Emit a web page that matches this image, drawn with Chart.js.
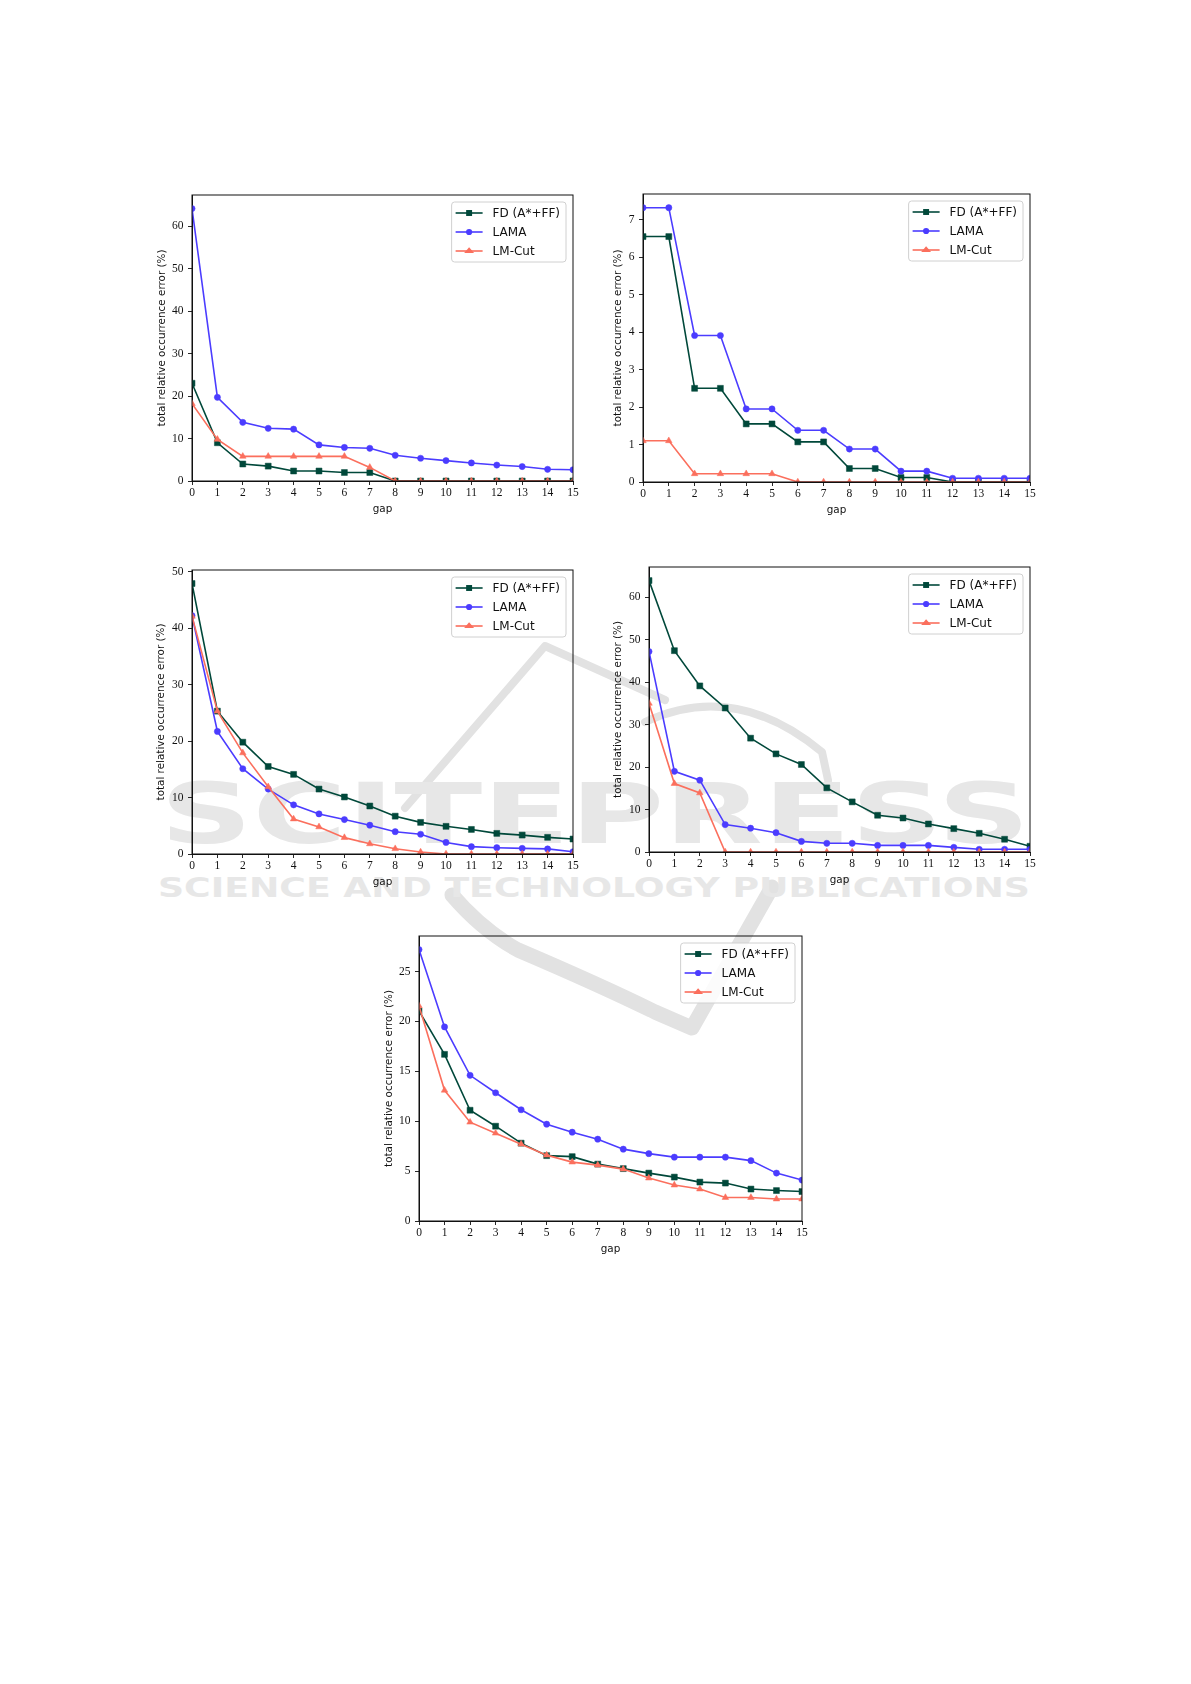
<!DOCTYPE html>
<html>
<head>
<meta charset="utf-8">
<script src="https://cdn.jsdelivr.net/npm/chart.js@4.4.0/dist/chart.umd.min.js"></script>
<style>
  html, body { margin: 0; padding: 0; background: #fff; }
  #page { position: relative; width: 1191px; height: 1684px; overflow: hidden; }
  #page canvas { position: absolute; }
  #mark { position: absolute; left: 0; top: 0; }
</style>
</head>
<body>
<div id="page">
  <svg id="mark" width="1191" height="1684">
    <g fill="none" stroke="#e2e2e2" stroke-linecap="round" stroke-linejoin="round">
      <path d="M 405 808 L 545 646 L 665 700" stroke-width="8"/>
      <path d="M 645 722 Q 735 680 822 752 L 828 780" stroke-width="8"/>
      <path d="M 452 895 Q 482 930 518 950 Q 600 985 655 1012 L 692 1028 L 772 887" stroke-width="15"/>
    </g>
    <text x="160" y="843" textLength="870" lengthAdjust="spacingAndGlyphs"
          font-family="DejaVu Sans" font-weight="bold" font-size="84" fill="#e7e7e7">SCITEPRESS</text>
    <text x="158" y="897" textLength="872" lengthAdjust="spacingAndGlyphs"
          font-family="DejaVu Sans" font-weight="bold" font-size="26" fill="#e7e7e7">SCIENCE AND TECHNOLOGY PUBLICATIONS</text>
  </svg>
  <canvas id="c1"></canvas>
  <canvas id="c2"></canvas>
  <canvas id="c3"></canvas>
  <canvas id="c4"></canvas>
  <canvas id="c5"></canvas>
</div>
<script>
// gap values on the x axis
const gaps = [0, 1, 2, 3, 4, 5, 6, 7, 8, 9, 10, 11, 12, 13, 14, 15];

// panel 1 (top left)
const fd1    = [23.0, 9.0, 4.0, 3.5, 2.35, 2.35, 2.0, 2.0, 0, 0, 0, 0, 0, 0, 0, 0];
const lama1  = [64.1, 19.7, 13.8, 12.4, 12.2, 8.5, 7.9, 7.7, 6.05, 5.35, 4.8, 4.25, 3.75, 3.4, 2.75, 2.65];
const lmcut1 = [18.2, 9.8, 5.8, 5.8, 5.8, 5.8, 5.8, 3.2, 0, 0, 0, 0, 0, 0, 0, 0];
const yTicks1 = [0, 10, 20, 30, 40, 50, 60];

// panel 2 (top right)
const fd2    = [6.55, 6.55, 2.5, 2.5, 1.55, 1.55, 1.07, 1.07, 0.36, 0.36, 0.12, 0.12, 0, 0, 0, 0];
const lama2  = [7.32, 7.32, 3.91, 3.91, 1.95, 1.95, 1.38, 1.38, 0.88, 0.88, 0.29, 0.29, 0.1, 0.1, 0.1, 0.1];
const lmcut2 = [1.1, 1.1, 0.22, 0.22, 0.22, 0.22, 0, 0, 0, 0, 0, 0, 0, 0, 0, 0];
const yTicks2 = [0, 1, 2, 3, 4, 5, 6, 7];

// panel 3 (middle left)
const fd3    = [47.9, 25.3, 19.8, 15.5, 14.1, 11.5, 10.1, 8.5, 6.7, 5.6, 4.9, 4.35, 3.65, 3.35, 2.95, 2.65];
const lama3  = [42.2, 21.7, 15.1, 11.5, 8.7, 7.1, 6.1, 5.1, 3.95, 3.5, 2.05, 1.3, 1.12, 1.0, 0.9, 0.4];
const lmcut3 = [42.1, 25.3, 17.9, 11.9, 6.2, 4.8, 2.9, 1.8, 0.94, 0.35, 0, 0, 0, 0, 0, 0];
const yTicks3 = [0, 10, 20, 30, 40, 50];

// panel 4 (middle right)
const fd4    = [63.9, 47.4, 39.1, 33.9, 26.8, 23.1, 20.6, 15.1, 11.8, 8.65, 8.0, 6.6, 5.5, 4.4, 3.0, 1.35];
const lama4  = [47.2, 19.0, 16.9, 6.45, 5.6, 4.55, 2.5, 2.05, 2.05, 1.55, 1.55, 1.55, 1.1, 0.63, 0.63, 0.63];
const lmcut4 = [35.0, 16.1, 13.9, 0, 0, 0, 0, 0, 0, 0, 0, 0, 0, 0, 0, 0];
const yTicks4 = [0, 10, 20, 30, 40, 50, 60];

// panel 5 (bottom)
const fd5    = [21.05, 16.7, 11.1, 9.5, 7.8, 6.55, 6.45, 5.7, 5.25, 4.8, 4.4, 3.9, 3.8, 3.2, 3.05, 2.95];
const lama5  = [27.2, 19.45, 14.6, 12.85, 11.15, 9.7, 8.9, 8.2, 7.2, 6.75, 6.4, 6.4, 6.4, 6.05, 4.8, 4.1];
const lmcut5 = [21.55, 13.1, 9.9, 8.8, 7.7, 6.6, 5.9, 5.6, 5.2, 4.3, 3.6, 3.2, 2.35, 2.35, 2.2, 2.2];
const yTicks5 = [0, 5, 10, 15, 20, 25];

const seriesNames = ["FD (A*+FF)", "LAMA", "LM-Cut"];
const yLabel = "total relative occurrence error (%)";
const xLabel = "gap";

// plot-area boxes [left, top, right, bottom] in page pixels, and y-label offset
const panels = [
  { id: "c1", box: [192, 195, 573, 481], yTitleOff: 30, yTicks: yTicks1, series: [fd1, lama1, lmcut1] },
  { id: "c2", box: [643, 194, 1030, 482], yTitleOff: 25, yTicks: yTicks2, series: [fd2, lama2, lmcut2] },
  { id: "c3", box: [192, 570, 573, 854], yTitleOff: 31, yTicks: yTicks3, series: [fd3, lama3, lmcut3] },
  { id: "c4", box: [649, 567, 1030, 852], yTitleOff: 31, yTicks: yTicks4, series: [fd4, lama4, lmcut4] },
  { id: "c5", box: [419, 936, 802, 1221], yTitleOff: 30, yTicks: yTicks5, series: [fd5, lama5, lmcut5] }
];

const styles = [
  { color: "#00483a", pointStyle: "rect", radius: 4.2, order: 3 },
  { color: "#4b3cff", pointStyle: "circle", radius: 3.1, order: 2 },
  { color: "#fb6f5d", pointStyle: "triangle", radius: 3.8, order: 1 }
];

const PAD_L = 48, PAD_T = 10, PAD_R = 16, PAD_B = 42;
const tickFont = { family: "Liberation Serif", size: 11.5 };
const labelFont = { family: "DejaVu Sans", size: 10.4, lineHeight: 1.2 };
const INK = "#111";

function marker(ctx, style, r, x, y) {
  ctx.beginPath();
  if (style === "rect") {
    const s = r * Math.SQRT1_2;
    ctx.rect(x - s, y - s, 2 * s, 2 * s);
  } else if (style === "triangle") {
    const h = r * 1.5, half = r * 1.3;
    ctx.moveTo(x, y - h * 0.66);
    ctx.lineTo(x + half, y + h * 0.34);
    ctx.lineTo(x - half, y + h * 0.34);
    ctx.closePath();
  } else {
    ctx.arc(x, y, r, 0, Math.PI * 2);
  }
  ctx.fill();
}

const frame = {
  id: "frame",
  afterDraw(chart) {
    const a = chart.chartArea, ctx = chart.ctx;
    ctx.save();
    ctx.strokeStyle = INK;
    ctx.lineWidth = 1;
    ctx.strokeRect(a.left, a.top, a.right - a.left, a.bottom - a.top);
    ctx.restore();
  }
};

const insideLegend = {
  id: "insideLegend",
  afterDatasetsDraw(chart) {
    const a = chart.chartArea, ctx = chart.ctx;
    const sets = chart.data.datasets;
    ctx.save();
    ctx.font = '12px "DejaVu Sans"';
    const tw = Math.max(...sets.map(d => ctx.measureText(d.label).width));
    const w = 41 + tw + 6, h = 60;
    const x = a.right - 7 - w, y = a.top + 7;
    ctx.beginPath();
    ctx.roundRect(x, y, w, h, 3);
    ctx.fillStyle = "rgba(255,255,255,0.85)";
    ctx.fill();
    ctx.strokeStyle = "#d0d0d0";
    ctx.lineWidth = 1;
    ctx.stroke();
    sets.forEach((d, i) => {
      const cy = y + 11 + 19 * i;
      ctx.strokeStyle = d.borderColor;
      ctx.fillStyle = d.borderColor;
      ctx.lineWidth = d.borderWidth;
      ctx.beginPath();
      ctx.moveTo(x + 4, cy);
      ctx.lineTo(x + 31, cy);
      ctx.stroke();
      marker(ctx, d.pointStyle, d.pointRadius, x + 17.5, cy);
      ctx.fillStyle = "#111";
      ctx.textBaseline = "middle";
      ctx.fillText(d.label, x + 41, cy + 0.5);
    });
    ctx.restore();
  }
};

function makeChart(p) {
  const [L, T, R, B] = p.box;
  const cv = document.getElementById(p.id);
  const w = R - L + PAD_L + PAD_R, h = B - T + PAD_T + PAD_B;
  cv.width = w; cv.height = h;
  cv.style.width = w + "px"; cv.style.height = h + "px";
  cv.style.left = (L - PAD_L) + "px"; cv.style.top = (T - PAD_T) + "px";

  const ymax = Math.max(...p.series.flat()) * 1.05;
  const datasets = p.series.map((vals, i) => ({
    label: seriesNames[i],
    data: gaps.map((g, k) => ({ x: g, y: vals[k] })),
    borderColor: styles[i].color,
    backgroundColor: styles[i].color,
    pointBackgroundColor: styles[i].color,
    pointBorderColor: styles[i].color,
    pointBorderWidth: 0.5,
    pointStyle: styles[i].pointStyle,
    pointRadius: styles[i].radius,
    borderWidth: 1.6,
    tension: 0,
    order: styles[i].order
  }));

  new Chart(cv, {
    type: "line",
    data: { datasets },
    options: {
      responsive: false,
      animation: false,
      events: [],
      layout: { padding: { left: 0, top: PAD_T, right: PAD_R, bottom: 0 } },
      plugins: { legend: { display: false }, tooltip: { enabled: false } },
      scales: {
        x: {
          type: "linear", min: 0, max: 15,
          afterBuildTicks: s => { s.ticks = gaps.map(v => ({ value: v })); },
          afterFit: s => { s.height = PAD_B; s.paddingLeft = 0; s.paddingRight = 0; },
          ticks: { font: tickFont, color: INK, padding: 1.5, maxRotation: 0, autoSkip: false },
          grid: { drawOnChartArea: false, drawTicks: true, tickLength: 4, tickColor: INK, tickWidth: 0.9 },
          border: { display: true, color: INK, width: 1 },
          title: { display: true, text: xLabel, font: labelFont, color: INK, padding: { top: 0, bottom: 7.8 } }
        },
        y: {
          type: "linear", min: 0, max: ymax,
          afterBuildTicks: s => { s.ticks = p.yTicks.map(v => ({ value: v })); },
          afterFit: s => { s.width = PAD_L; s.paddingTop = 0; s.paddingBottom = 0; },
          ticks: { font: tickFont, color: INK, padding: 4.5 },
          grid: { drawOnChartArea: false, drawTicks: true, tickLength: 4, tickColor: INK, tickWidth: 0.9 },
          border: { display: true, color: INK, width: 1 },
          title: { display: true, text: yLabel, font: labelFont, color: INK,
                   padding: { top: PAD_L - p.yTitleOff - 6.24, bottom: 0 } }
        }
      }
    },
    plugins: [frame, insideLegend]
  });
}

panels.forEach(makeChart);
</script>
</body>
</html>
